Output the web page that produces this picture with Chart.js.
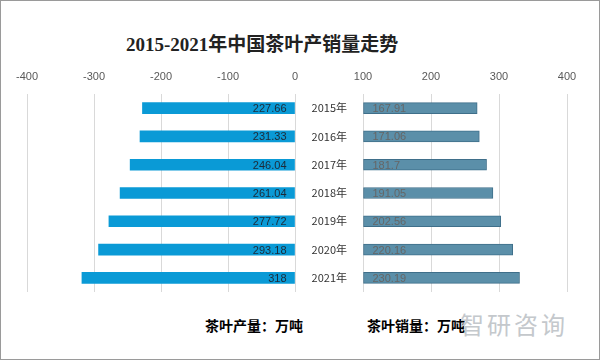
<!DOCTYPE html>
<html lang="zh">
<head>
<meta charset="UTF-8">
<title>2015-2021年中国茶叶产销量走势</title>
<script src="https://cdn.jsdelivr.net/npm/chart.js"></script>
<style>
    body { margin: 0; background: #fff; }
    .wrap {
        position: relative;
        width: 600px;
        height: 360px;
        border: 1px solid #9a9a9a;
        box-sizing: border-box;
        overflow: hidden;
        font-family: "Noto Sans CJK SC", sans-serif;
    }
    .title {
        position: absolute;
        left: 125px;
        top: 28px;
        font-family: "Liberation Serif", "Noto Sans CJK SC", serif;
        font-weight: bold;
        font-size: 19px;
        color: #222;
        white-space: nowrap;
    }
    .axis-name {
        position: absolute;
        top: 314px;
        font-weight: bold;
        font-size: 14px;
        color: #000;
        white-space: nowrap;
    }
    .mark {
        position: absolute;
        left: 459px;
        top: 305px;
        font-size: 24px;
        color: #c4c8cc;
        letter-spacing: 3px;
    }
    #prodChart { position: absolute; left: -1px; top: 59px; }
    #salesChart { position: absolute; left: 299px; top: 59px; }
</style>
</head>
<body>
<div class="wrap">
    <div class="title">2015-2021年中国茶叶产销量走势</div>
    <canvas id="prodChart" width="300" height="240"></canvas>
    <canvas id="salesChart" width="300" height="240"></canvas>
    <div class="axis-name" style="left:204px">茶叶产量：万吨</div>
    <div class="axis-name" style="left:366px">茶叶销量：万吨</div>
    <div class="mark">智研咨询</div>
</div>

<script>
// 数据
const years = ['2015年', '2016年', '2017年', '2018年', '2019年', '2020年', '2021年'];
const production = [227.66, 231.33, 246.04, 261.04, 277.72, 293.18, 318];
const sales = [167.91, 171.06, 181.7, 191.05, 202.56, 220.16, 230.19];
const leftTicks = [-400, -300, -200, -100, 0];
const rightTickLabels = ['100', '200', '300', '400'];

const tickFont = { family: 'Liberation Sans', size: 11 };
const gridColor = '#d9d9d9';

// 去掉刻度标签带来的额外内边距
function noPad(s) {
    s.paddingLeft = 0; s.paddingRight = 0;
    s.paddingTop = 0; s.paddingBottom = 0;
}

// 数值标签
const valueLabels = {
    id: 'valueLabels',
    afterDatasetsDraw(chart, args, opts) {
        const ctx = chart.ctx;
        const meta = chart.getDatasetMeta(0);
        const src = opts.values;
        ctx.save();
        ctx.font = '11px "Liberation Sans"';
        ctx.fillStyle = opts.color;
        ctx.textBaseline = 'middle';
        ctx.textAlign = opts.align;
        meta.data.forEach((bar, i) => {
            const x = opts.align === 'right' ? bar.base - 8 : bar.base + 9;
            ctx.fillText(String(src[i]), x, bar.y + 1);
        });
        ctx.restore();
    }
};

new Chart(document.getElementById('prodChart'), {
    type: 'bar',
    data: {
        labels: years,
        datasets: [{
            data: production.map(v => -v),
            backgroundColor: '#0a9ad6',
            barThickness: 11
        }]
    },
    options: {
        indexAxis: 'y',
        responsive: false,
        animation: false,
        layout: { padding: { left: 27, right: 5, top: 0, bottom: 8 } },
        plugins: {
            legend: { display: false },
            tooltip: { enabled: false },
            valueLabels: { values: production, color: '#1c2a38', align: 'right' }
        },
        scales: {
            x: {
                position: 'top',
                min: -400,
                max: 0,
                afterBuildTicks: s => { s.ticks = leftTicks.map(v => ({ value: v })); },
                afterFit: s => { s.height = 34; noPad(s); },
                ticks: { font: tickFont, color: '#595959', padding: 10 },
                grid: { color: gridColor, drawTicks: false },
                border: { display: false }
            },
            y: { display: false }
        }
    },
    plugins: [valueLabels]
});

new Chart(document.getElementById('salesChart'), {
    type: 'bar',
    data: {
        labels: years,
        datasets: [{
            data: sales,
            backgroundColor: '#5b8fa9',
            borderColor: '#3f6f8a',
            borderWidth: 1,
            borderSkipped: false,
            barThickness: 11
        }]
    },
    options: {
        indexAxis: 'y',
        responsive: false,
        animation: false,
        layout: { padding: { left: 0, right: 33, top: 0, bottom: 8 } },
        plugins: {
            legend: { display: false },
            tooltip: { enabled: false },
            valueLabels: { values: sales, color: '#666666', align: 'left' }
        },
        scales: {
            x: {
                position: 'top',
                min: 0,
                max: 300,
                ticks: {
                    stepSize: 100,
                    font: tickFont,
                    color: '#595959',
                    padding: 10,
                    callback: (v, i) => rightTickLabels[i]
                },
                afterFit: s => { s.height = 34; noPad(s); },
                grid: { color: gridColor, drawTicks: false },
                border: { display: false }
            },
            y: {
                afterFit: s => { s.width = 63; noPad(s); },
                ticks: { font: { family: 'Noto Sans CJK SC', size: 11 }, color: '#333', padding: 16 },
                grid: { display: false, drawTicks: false },
                border: { display: false }
            }
        }
    },
    plugins: [valueLabels]
});
</script>
</body>
</html>
